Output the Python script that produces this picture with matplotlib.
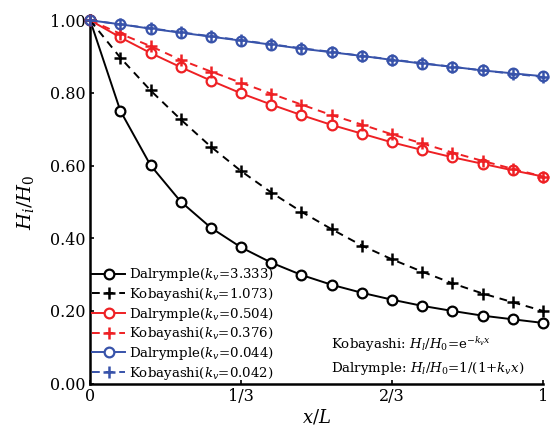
import numpy as np
import matplotlib
matplotlib.use('Agg')
from matplotlib import pyplot as plt

# x positions (x/L), 16 samples from 0 to 1
x = np.linspace(0, 1, 16)

# values
dal_black = [1.000, 0.751, 0.601, 0.501, 0.429, 0.375, 0.333, 0.299, 0.272, 0.250,
             0.231, 0.214, 0.200, 0.187, 0.177, 0.167]
kob_black = [1.000, 0.897, 0.807, 0.727, 0.652, 0.585, 0.526, 0.473, 0.425, 0.380,
             0.342, 0.308, 0.276, 0.248, 0.224, 0.200]
dal_red = [1.000, 0.953, 0.910, 0.871, 0.834, 0.799, 0.768, 0.739, 0.712, 0.688,
           0.664, 0.643, 0.623, 0.605, 0.587, 0.570]
kob_red = [1.000, 0.963, 0.929, 0.891, 0.859, 0.828, 0.798, 0.768, 0.739, 0.713,
           0.686, 0.661, 0.636, 0.613, 0.591, 0.570]
dal_blue = [1.000, 0.989, 0.977, 0.966, 0.955, 0.944, 0.933, 0.922, 0.912, 0.902,
            0.891, 0.881, 0.872, 0.862, 0.854, 0.846]
kob_blue = [1.000, 0.989, 0.978, 0.967, 0.956, 0.945, 0.934, 0.923, 0.913, 0.902,
            0.892, 0.882, 0.872, 0.862, 0.853, 0.844]

labels = ['Dalrymple($k_v$=3.333)', 'Kobayashi($k_v$=1.073)',
          'Dalrymple($k_v$=0.504)', 'Kobayashi($k_v$=0.376)',
          'Dalrymple($k_v$=0.044)', 'Kobayashi($k_v$=0.042)']

xticks = [0, 1/3, 2/3, 1]
xticklabels = ['0', '1/3', '2/3', '1']
yticks = [0.0, 0.2, 0.4, 0.6, 0.8, 1.0]

plt.rcParams['font.family'] = ['DejaVu Serif']
plt.rcParams['mathtext.fontset'] = 'dejavuserif'

RED = '#ee2024'
BLUE = '#3853aa'

fig = plt.figure(figsize=(5.53, 4.32), dpi=100)
ax = fig.add_axes([0.163, 0.112, 0.819, 0.841])

series = [
    (dal_black, 'k', '-', 'o'),
    (kob_black, 'k', '--', '+'),
    (dal_red, RED, '-', 'o'),
    (kob_red, RED, '--', '+'),
    (dal_blue, BLUE, '-', 'o'),
    (kob_blue, BLUE, '--', '+'),
]

for (y, c, ls, m), lab in zip(series, labels):
    if m == 'o':
        ax.plot(x, y, color=c, ls=ls, lw=1.4, marker='o', ms=7,
                mfc='white', mec=c, mew=1.6, label=lab, clip_on=False, zorder=3)
    else:
        ax.plot(x, y, color=c, ls=ls, lw=1.4, dashes=(4, 3), marker='+', ms=8,
                mew=1.8, label=lab, clip_on=False, zorder=4)

ax.set_xlim(0, 1)
ax.set_ylim(0, 1)
ax.set_xticks(xticks)
ax.set_xticklabels(xticklabels)
ax.set_yticks(yticks)
ax.set_yticklabels(['%.2f' % v for v in yticks])
ax.tick_params(direction='in', length=3, width=1.2, labelsize=11.5, pad=3)

for s in ['top', 'right']:
    ax.spines[s].set_visible(False)
for s in ['left', 'bottom']:
    ax.spines[s].set_linewidth(1.8)

ax.set_xlabel('$x/L$', fontsize=13, labelpad=2)
ax.set_ylabel('$H_i/H_0$', fontsize=14, labelpad=10)

ax.legend(loc='lower left', frameon=False, fontsize=9.6, handlelength=2.5,
          handletextpad=0.3, labelspacing=0.2, borderaxespad=0.05,
          borderpad=0.1)

ax.text(0.532, 0.107, 'Kobayashi: $H_l/H_0$=e$^{-k_v x}$', transform=ax.transAxes,
        fontsize=9.6, va='center')
ax.text(0.532, 0.042, 'Dalrymple: $H_l/H_0$=1/(1+$k_v x$)', transform=ax.transAxes,
        fontsize=9.6, va='center')

plt.savefig('out.png', dpi=100)
